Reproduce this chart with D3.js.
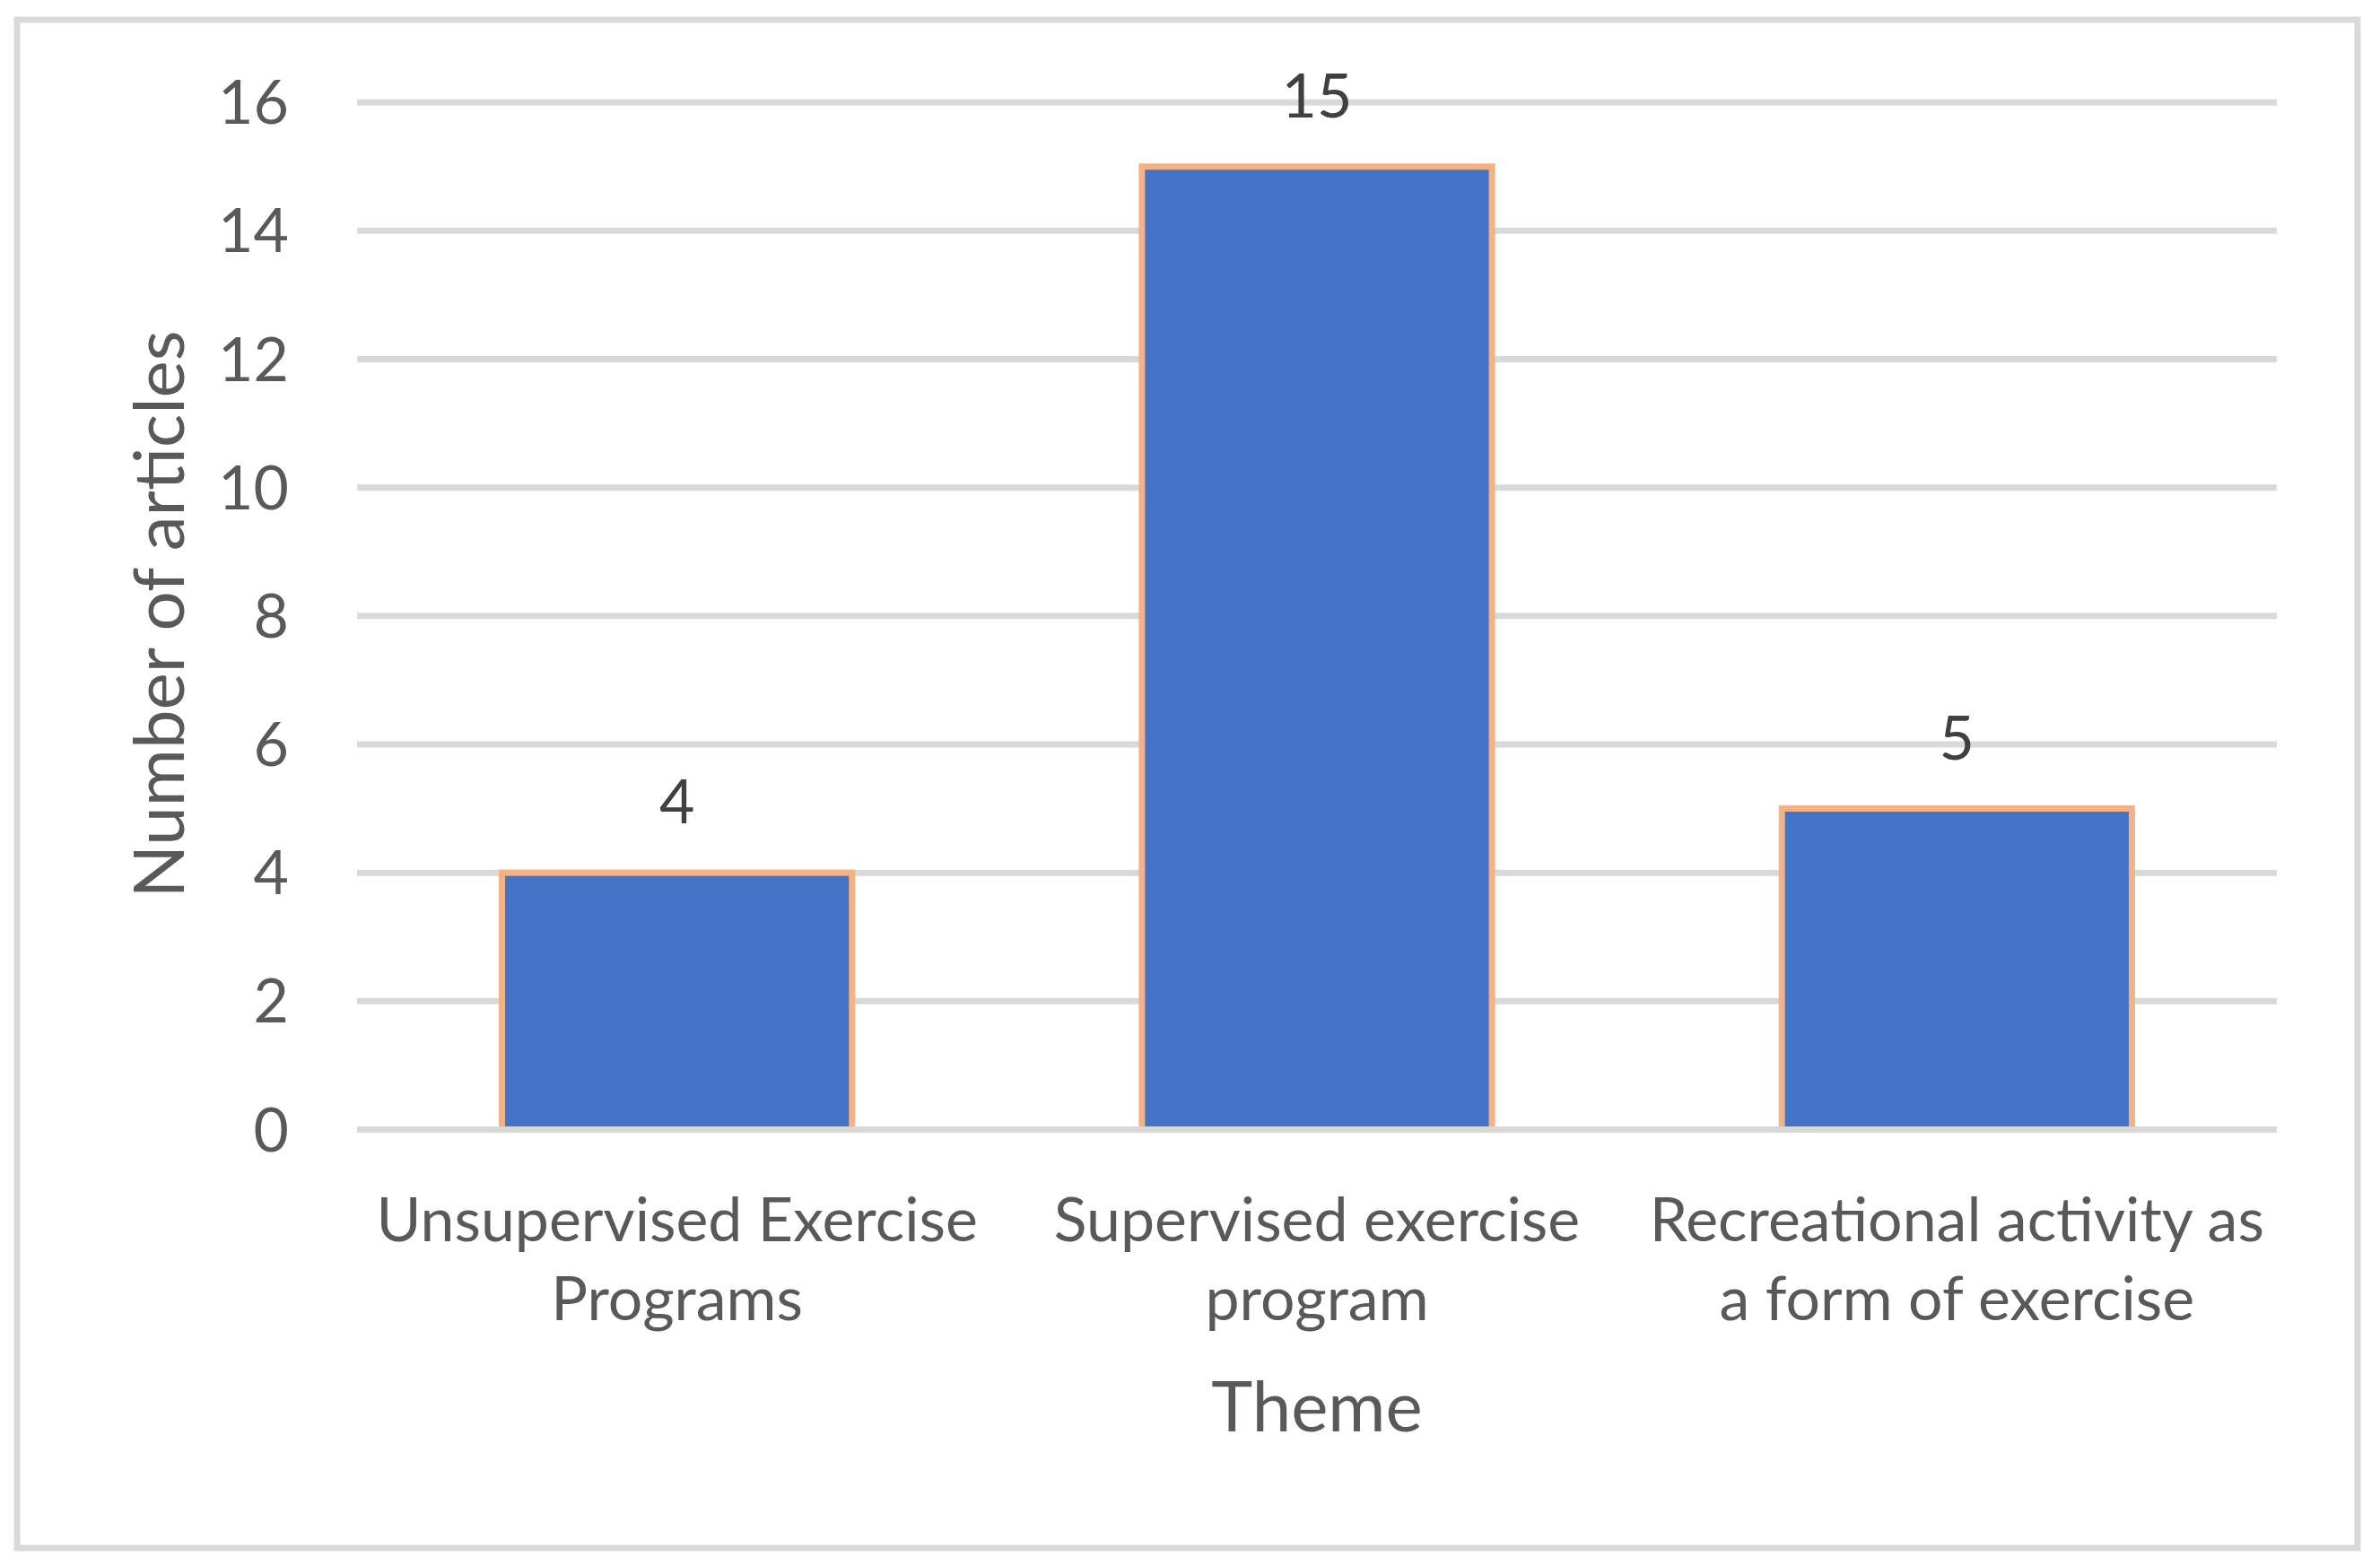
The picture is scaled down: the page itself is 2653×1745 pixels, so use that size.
<!DOCTYPE html>
<html><head><meta charset="utf-8">
<script src="https://cdn.jsdelivr.net/npm/d3@7"></script>
<style>html,body{margin:0;padding:0;background:#fff;}</style>
</head><body>
<script>
const categories = [["Unsupervised Exercise","Programs"],["Supervised exercise","program"],["Recreational activity as","a form of exercise"]];
const values = [4, 15, 5];
const yTicks = [0, 2, 4, 6, 8, 10, 12, 14, 16];
const xTitle = "Theme";
const yTitle = "Number of articles";

(function(){
const W = 2653, H = 1745;
const FONT = "Lato, 'Open Sans', sans-serif";
const svg = d3.select("body").append("svg").attr("width", W).attr("height", H);
svg.append("rect").attr("width", W).attr("height", H).attr("fill", "#fff");
svg.append("rect").attr("x", 19).attr("y", 22).attr("width", 2609).attr("height", 1704)
  .attr("fill", "#fff").attr("stroke", "#D9D9D9").attr("stroke-width", 7);

const pl = 398, pr = 2538, pt = 114.2, pb = 1259.5;
const x = d3.scaleBand().domain(d3.range(categories.length)).range([pl, pr])
  .paddingInner(0.453).paddingOuter(0.2265);
const y = d3.scaleLinear().domain([0, 16]).range([pb, pt]);

svg.append("g").selectAll("line").data(yTicks).join("line")
  .attr("x1", pl).attr("x2", pr).attr("y1", d => y(d)).attr("y2", d => y(d))
  .attr("stroke", "#D9D9D9").attr("stroke-width", 7);

svg.append("g").selectAll("text").data(yTicks).join("text")
  .attr("x", 322).attr("y", d => y(d) + 24)
  .attr("text-anchor", "end").attr("font-family", FONT).attr("font-size", 68)
  .attr("fill", "#595959").text(d => d);

svg.append("g").selectAll("rect").data(values).join("rect")
  .attr("x", (d, i) => x(i)).attr("width", x.bandwidth())
  .attr("y", d => y(d)).attr("height", d => pb - y(d))
  .attr("fill", "#4472C4").attr("stroke", "#F4B183").attr("stroke-width", 7);

svg.append("line").attr("x1", pl).attr("x2", pr).attr("y1", y(0)).attr("y2", y(0))
  .attr("stroke", "#D9D9D9").attr("stroke-width", 7);

svg.append("g").selectAll("text").data(values).join("text")
  .attr("x", (d, i) => x(i) + x.bandwidth() / 2).attr("y", d => y(d) - 55)
  .attr("text-anchor", "middle").attr("font-family", FONT).attr("font-size", 68)
  .attr("fill", "#404040").text(d => d);

const cat = svg.append("g").selectAll("text").data(categories).join("text")
  .attr("text-anchor", "middle").attr("font-family", FONT).attr("font-size", 68)
  .attr("fill", "#595959");
cat.each(function(lines, i) {
  const t = d3.select(this);
  lines.forEach((ln, j) => {
    t.append("tspan").attr("x", x(i) + x.bandwidth() / 2).attr("y", 1384 + j * 88).text(ln);
  });
});

svg.append("text").attr("x", (pl + pr) / 2).attr("y", 1596)
  .attr("text-anchor", "middle").attr("font-family", FONT).attr("font-size", 78)
  .attr("fill", "#595959").text(xTitle);
svg.append("text").attr("transform", "translate(205,685) rotate(-90)")
  .attr("text-anchor", "middle").attr("font-family", FONT).attr("font-size", 78)
  .attr("fill", "#595959").text(yTitle);
})();
</script>
</body></html>
